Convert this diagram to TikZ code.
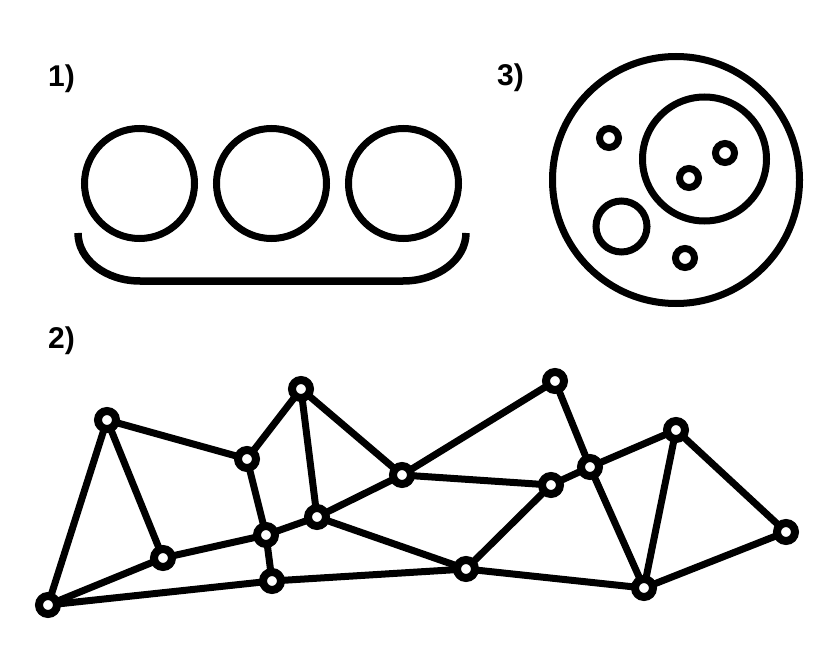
\documentclass[tikz,border=0pt]{standalone}
\usepackage{fontspec}
\setmainfont{Liberation Sans}
\usetikzlibrary{backgrounds}
\tikzset{
  vtx/.style={circle, draw=black, fill=white, line width=8pt, inner sep=0pt, minimum size=18pt},
  edge/.style={line width=7pt},
  ring/.style={line width=7pt},
  lbl/.style={anchor=base west, inner sep=0pt, font=\fontsize{30}{30}\selectfont\bfseries}
}
\begin{document}
\begin{tikzpicture}[x=1pt,y=-1pt]
\useasboundingbox (0,0) rectangle (830,647);
% labels
\node[lbl] (l1) at (48,87) {1)};
\node[lbl] (l3) at (497,86) {3)};
\node[lbl] (l2) at (48,348) {2)};
% group 1
\draw[ring] (139.5,183.5) circle[radius=55pt];
\draw[ring] (271.5,183.5) circle[radius=55pt];
\draw[ring] (403.5,183.5) circle[radius=55pt];
\draw[line width=7.5pt] (78,233) arc[start angle=180,end angle=270,x radius=62pt,y radius=48pt]
  -- (403,281) arc[start angle=270,end angle=360,x radius=63pt,y radius=48pt];
% group 3
\draw[ring] (676,180) circle[radius=123.5pt];
\draw[ring] (704.5,159) circle[radius=62pt];
\draw[ring] (621.5,226.5) circle[radius=25.5pt];
\draw[ring] (609,138) circle[radius=9.5pt];
\draw[ring] (725,153) circle[radius=9.5pt];
\draw[ring] (689,178) circle[radius=9.5pt];
\draw[ring] (685,258) circle[radius=9.5pt];
% group 2 graph
\node[vtx] (A) at (48,605) {};
\node[vtx] (B) at (107,420) {};
\node[vtx] (C) at (163,558) {};
\node[vtx] (D) at (247,459) {};
\node[vtx] (E) at (301,389) {};
\node[vtx] (F) at (266,535) {};
\node[vtx] (G) at (317,517) {};
\node[vtx] (H) at (272,581) {};
\node[vtx] (I) at (402,475) {};
\node[vtx] (J) at (555,381) {};
\node[vtx] (K) at (551,485) {};
\node[vtx] (L) at (590,467) {};
\node[vtx] (M) at (676,430) {};
\node[vtx] (N) at (466,569) {};
\node[vtx] (O) at (644,588) {};
\node[vtx] (P) at (786,532) {};
\begin{scope}[on background layer]
\foreach \a/\b in {A/B,B/C,A/C,A/H,B/D,D/E,D/F,F/H,C/F,F/G,E/G,E/I,G/I,G/N,H/N,I/J,I/K,K/L,J/L,L/M,K/N,N/O,L/O,M/O,M/P,O/P}
  \draw[edge] (\a.center) -- (\b.center);
\end{scope}
\end{tikzpicture}
\end{document}
